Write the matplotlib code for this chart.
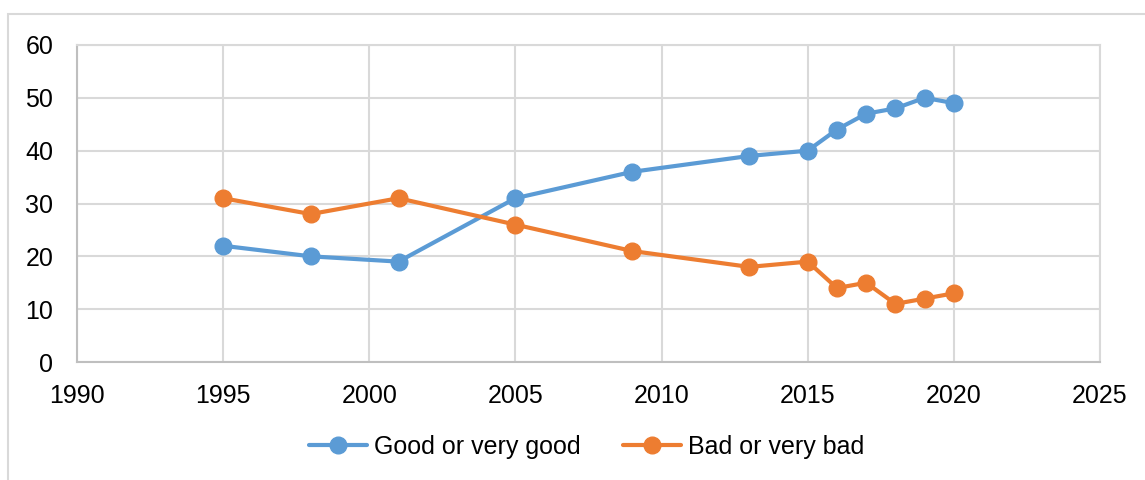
import matplotlib
matplotlib.use("Agg")
import matplotlib.pyplot as plt
from matplotlib.patches import Rectangle

plt.rcParams['font.family'] = ['Liberation Sans', 'DejaVu Sans']

years = [1995, 1998, 2001, 2005, 2009, 2013, 2015, 2016, 2017, 2018, 2019, 2020]
good = [22, 20, 19, 31, 36, 39, 40, 44, 47, 48, 50, 49]
bad = [31, 28, 31, 26, 21, 18, 19, 14, 15, 11, 12, 13]
x_ticks = [1990, 1995, 2000, 2005, 2010, 2015, 2020, 2025]
y_ticks = [0, 10, 20, 30, 40, 50, 60]

W, H = 1145, 480
fig = plt.figure(figsize=(W / 100, H / 100), dpi=100)
fig.patches.append(Rectangle((8 / W, -0.1), 1.2, (H - 14) / H + 0.1, transform=fig.transFigure,
                             fill=False, edgecolor='#d9d9d9', linewidth=1.5))

left, right, top, bottom = 77, 1100, 45, 362
ax = fig.add_axes([left / W, 1 - bottom / H, (right - left) / W, (bottom - top) / H])

ax.plot(years, good, color='#5B9BD5', linewidth=3, marker='o', markersize=12,
        label='Good or very good', solid_capstyle='round', zorder=3)
ax.plot(years, bad, color='#ED7D31', linewidth=3, marker='o', markersize=12,
        label='Bad or very bad', solid_capstyle='round', zorder=3)

ax.set_xlim(1990, 2025)
ax.set_ylim(0, 60)
ax.set_xticks(x_ticks)
ax.set_yticks(y_ticks)
ax.grid(True, color='#d9d9d9', linewidth=1.5, zorder=0)
ax.set_axisbelow(True)
for s in ['top', 'right']:
    ax.spines[s].set_color('#d9d9d9')
    ax.spines[s].set_linewidth(1.5)
for s in ['left', 'bottom']:
    ax.spines[s].set_color('#bfbfbf')
    ax.spines[s].set_linewidth(1.5)
ax.tick_params(axis='both', length=0, labelsize=18, colors='black')
ax.tick_params(axis='y', pad=17)
ax.tick_params(axis='x', pad=16)

leg = fig.legend(loc='center', bbox_to_anchor=(587 / W, 1 - 447 / H), ncol=2, frameon=False,
                 fontsize=18, handlelength=2.3, columnspacing=1.7, handletextpad=0.3)

fig.savefig('out.png', dpi=100)
